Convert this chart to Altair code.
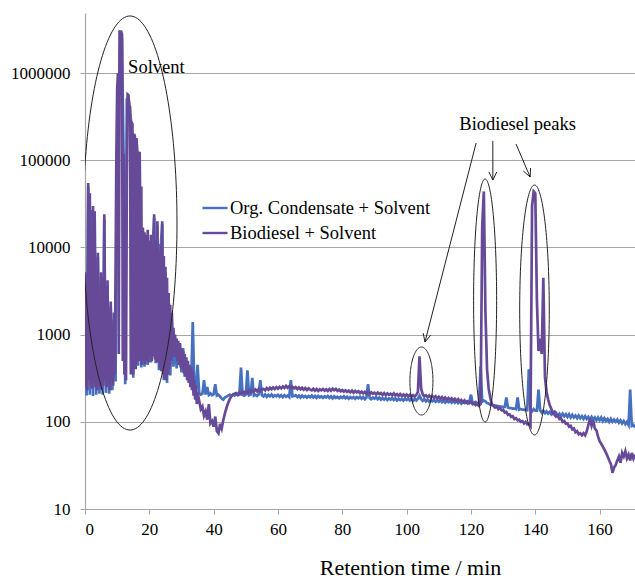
import numpy as np
import pandas as pd
import altair as alt

SERIES = ["Org. Condensate + Solvent", "Biodiesel + Solvent"]
COLORS = ["#4670C0", "#674A97"]
SERIF = "Liberation Serif"

# Org. Condensate + Solvent: detector signal every 0.5 min, 0 - 171 min
blue_start, blue_step = 0.0, 0.5
blue_v = [
    4800, 200, 50000, 205, 27000, 198, 24000, 205, 7800, 210,
    4600, 205, 21000, 215, 3600, 210, 2100, 230, 1500, 290,
    95000, 620000, 2700000, 2500000, 105000, 270, 500000, 520000, 370000, 240000,
    320, 175000, 155000, 440, 105000, 420, 15500, 430, 12500, 450,
    10500, 480, 9800, 22000, 470, 18000, 390, 9500, 18500, 300,
    5200, 280, 2700, 340, 1500, 430, 920, 410, 680, 780,
    370, 700, 330, 480, 300, 440, 260, 1400, 245, 235,
    450, 215, 205, 210, 300, 206, 250, 204, 212, 202,
    208, 270, 200, 205, 195, 185, 180, 190, 195, 200,
    205, 198, 206, 200, 208, 202, 205, 420, 204, 200,
    206, 390, 202, 206, 320, 200, 205, 198, 206, 300,
    202, 196, 206, 194, 204, 196, 206, 194, 202, 196,
    204, 194, 202, 192, 202, 194, 200, 192, 300, 196,
    198, 202, 192, 200, 190, 200, 192, 198, 190, 198,
    192, 200, 190, 198, 188, 198, 190, 196, 188, 196,
    190, 198, 188, 196, 186, 196, 188, 194, 186, 194,
    188, 196, 186, 194, 184, 192, 186, 192, 184, 192,
    186, 194, 184, 192, 182, 190, 270, 188, 182, 190,
    184, 192, 182, 190, 180, 188, 180, 188, 178, 186,
    180, 188, 178, 186, 176, 184, 178, 184, 176, 184,
    178, 186, 176, 184, 174, 182, 176, 184, 200, 182,
    174, 182, 172, 180, 170, 178, 172, 178, 170, 178,
    170, 178, 168, 176, 166, 174, 168, 174, 166, 174,
    166, 174, 164, 172, 162, 170, 164, 170, 162, 170,
    205, 166, 160, 168, 158, 166, 430, 170, 175, 172,
    164, 162, 156, 156, 156, 154, 152, 152, 150, 150,
    148, 148, 190, 146, 144, 144, 142, 142, 140, 190,
    138, 140, 138, 138, 136, 136, 400, 138, 132, 140,
    134, 134, 235, 136, 128, 134, 126, 132, 124, 130,
    122, 128, 120, 126, 118, 124, 116, 124, 116, 122,
    114, 122, 112, 120, 112, 118, 110, 118, 110, 116,
    108, 116, 108, 114, 106, 114, 106, 112, 104, 112,
    104, 112, 102, 110, 102, 108, 100, 108, 100, 106,
    100, 106, 98, 104, 96, 102, 94, 100, 92, 235,
    90, 92, 86,
]

# Biodiesel + Solvent: every 0.25 min through the solvent front (0 - 34.75 min)
purple_a_start, purple_a_step = 0.0, 0.25
purple_a_v = [
    5200, 250, 1800, 230, 55000, 300, 42000, 260, 9000, 240,
    30000, 280, 26000, 250, 4000, 230, 8700, 260, 3000, 240,
    5200, 230, 2000, 260, 24000, 300, 3500, 250, 4200, 280,
    1500, 230, 2400, 300, 1200, 260, 1800, 350, 5000, 112000,
    650000, 1000000, 600, 3000000, 3000000, 3000000, 2800000, 500, 120000, 350,
    30000, 300, 60000, 570000, 560000, 420000, 410000, 350, 270000, 260000,
    350, 200000, 190000, 400, 180000, 130000, 500, 120000, 125000, 500,
    50000, 450, 17000, 500, 15000, 460, 14000, 500, 16000, 480,
    12000, 550, 14000, 500, 11000, 560, 24000, 520, 12000, 480,
    20000, 500, 9000, 420, 11000, 380, 20000, 350, 8000, 320,
    6000, 300, 4500, 350, 3000, 400, 2200, 500, 1800, 550,
    1200, 600, 1000, 550, 900, 500, 850, 450, 800, 420,
    700, 400, 650, 360, 600, 330, 550, 300, 500, 280,
    450, 250, 420, 230, 380, 200, 300, 180, 260, 160,
]

# Biodiesel + Solvent: every 0.5 min from 35 to 171 min
purple_b_start, purple_b_step = 35.0, 0.5
purple_b_v = [
    220, 175, 140, 150, 118, 132, 106, 160, 96, 102,
    88, 115, 78, 74, 95, 84, 105, 125, 145, 165,
    182, 196, 204, 210, 214, 206, 218, 210, 222, 212,
    224, 214, 228, 218, 232, 222, 234, 224, 238, 226,
    236, 238, 230, 244, 234, 246, 236, 248, 238, 250,
    240, 252, 242, 254, 244, 258, 246, 256, 244, 252,
    242, 250, 238, 248, 236, 246, 234, 244, 232, 242,
    234, 230, 240, 228, 238, 226, 236, 230, 238, 228,
    236, 226, 238, 228, 240, 230, 238, 226, 234, 224,
    232, 222, 230, 220, 228, 218, 228, 216, 226, 218,
    224, 214, 222, 212, 220, 210, 220, 208, 218, 210,
    216, 206, 216, 208, 214, 204, 214, 202, 212, 204,
    210, 202, 212, 200, 208, 198, 208, 198, 206, 196,
    206, 196, 204, 194, 202, 194, 204, 220, 565, 240,
    207, 196, 202, 192, 200, 190, 198, 188, 196, 186,
    194, 184, 192, 182, 190, 180, 188, 178, 186, 176,
    184, 174, 182, 172, 178, 168, 176, 166, 172, 164,
    170, 160, 166, 156, 162, 153, 160, 17500, 44000, 1800,
    400, 240, 190, 160, 152, 146, 150, 140, 144, 136,
    138, 128, 130, 120, 122, 114, 116, 108, 110, 104,
    106, 100, 102, 96, 100, 94, 96, 90, 30000, 44000,
    42000, 2500, 650, 900, 600, 4500, 330, 220, 180, 155,
    140, 125, 130, 115, 118, 108, 110, 100, 102, 95,
    96, 88, 90, 82, 84, 76, 78, 72, 74, 70,
    74, 70, 78, 92, 108, 90, 104, 84, 80, 68,
    60, 56, 52, 48, 44, 40, 36, 33, 26, 30,
    32, 36, 40, 34, 44, 40, 46, 38, 42, 36,
    44, 38, 42,
]

# Ellipses around peak groups: centre (min, log10 signal) and radii
ell_cx = [14.0, 104.6, 124.4, 139.75]
ell_cy = [4.281, 2.468, 3.392, 3.283]
ell_rx = [14.6, 3.58, 3.58, 4.6]
ell_ry = [2.375, 0.39, 1.394, 1.434]

# Arrows from the "Biodiesel peaks" caption: start and tip (min, signal)
arr_x0 = [121.6, 126.8, 134.0]
arr_y0 = [158000, 167000, 154000]
arr_x1 = [105.7, 126.8, 138.4]
arr_y1 = [824, 59400, 64400]

# Captions
note_text = ["Solvent", "Biodiesel peaks"]
note_x = [13.4, 134.5]
note_y = [1180000, 261000]

X_MAX = 171
Y_MIN, Y_MAX = 10, 4.9e6
W, H = 550, 496


def trace(start, step, values, name):
    t = start + step * np.arange(len(values))
    return pd.DataFrame({"t": t, "v": values, "series": name})


blue = trace(blue_start, blue_step, blue_v, SERIES[0])
purple = pd.concat([
    trace(purple_a_start, purple_a_step, purple_a_v, SERIES[1]),
    trace(purple_b_start, purple_b_step, purple_b_v, SERIES[1]),
], ignore_index=True)

# ellipse outlines in data space
ang = np.linspace(0, 2 * np.pi, 161)
ell_rows = []
for i in range(len(ell_cx)):
    for k, a in enumerate(ang):
        ell_rows.append({"id": i, "k": k,
                         "x": ell_cx[i] + ell_rx[i] * np.cos(a),
                         "y": 10 ** (ell_cy[i] + ell_ry[i] * np.sin(a))})
ell_df = pd.DataFrame(ell_rows)

# arrow shafts plus open arrow heads (head built in screen units)
kx = W / X_MAX
ky = H / np.log10(Y_MAX / Y_MIN)
seg_rows = []
sid = 0
for i in range(len(arr_x0)):
    lx0, lx1 = np.log10(arr_y0[i]), np.log10(arr_y1[i])
    seg_rows += [{"id": sid, "k": 0, "x": arr_x0[i], "y": arr_y0[i]},
                 {"id": sid, "k": 1, "x": arr_x1[i], "y": arr_y1[i]}]
    sid += 1
    u, w = (arr_x1[i] - arr_x0[i]) * kx, (lx1 - lx0) * ky
    n = np.hypot(u, w)
    bu, bw = -u / n, -w / n
    for s in (1, -1):
        c, sn = np.cos(s * 0.45), np.sin(s * 0.45)
        au, aw = (bu * c - bw * sn) * 9, (bu * sn + bw * c) * 9
        seg_rows += [{"id": sid, "k": 0, "x": arr_x1[i], "y": arr_y1[i]},
                     {"id": sid, "k": 1, "x": arr_x1[i] + au / kx,
                      "y": 10 ** (lx1 + aw / ky)}]
        sid += 1
seg_df = pd.DataFrame(seg_rows)

notes = pd.DataFrame({"label": note_text, "x": note_x, "y": note_y})

x_scale = alt.Scale(domain=[0, X_MAX], nice=False, zero=False)
y_scale = alt.Scale(type="log", domain=[Y_MIN, Y_MAX], nice=False)
color_scale = alt.Scale(domain=SERIES, range=COLORS)

x_axis = alt.Axis(values=list(range(0, 161, 20)), grid=False, tickSize=5,
                  labelPadding=7, title="Retention time / min",
                  titleX=325, titleY=65, titleBaseline="alphabetic",
                  titleAlign="center", titleAnchor="start")
y_axis = alt.Axis(values=[10, 100, 1000, 10000, 100000, 1000000], format="d",
                  grid=True, tickSize=5, labelPadding=10, title=None)

legend = alt.Legend(title=None, orient="none", legendX=116, legendY=181,
                    symbolType="stroke", symbolSize=625, symbolStrokeWidth=2.4,
                    labelFont=SERIF, labelFontSize=18.5, labelColor="#000",
                    labelLimit=0, labelOffset=1, rowPadding=1, padding=0)


def series_layer(df):
    return alt.Chart(df).mark_line(strokeWidth=2.7, clip=True).encode(
        x=alt.X("t:Q", scale=x_scale, axis=x_axis),
        y=alt.Y("v:Q", scale=y_scale, axis=y_axis),
        color=alt.Color("series:N", scale=color_scale, legend=legend),
        order="t:Q",
    )


ellipses = alt.Chart(ell_df).mark_line(color="#222", strokeWidth=1, clip=True).encode(
    x="x:Q", y="y:Q", detail="id:N", order="k:Q")
arrows = alt.Chart(seg_df).mark_line(color="#222", strokeWidth=1).encode(
    x="x:Q", y="y:Q", detail="id:N", order="k:Q")
solvent_txt = alt.Chart(notes.iloc[[0]]).mark_text(
    font=SERIF, fontSize=18.5, color="#000", align="left", baseline="middle"
).encode(x="x:Q", y="y:Q", text="label:N")
peaks_txt = alt.Chart(notes.iloc[[1]]).mark_text(
    font=SERIF, fontSize=18.5, color="#000", align="center", baseline="middle"
).encode(x="x:Q", y="y:Q", text="label:N")

chart = alt.layer(
    series_layer(blue), series_layer(purple), ellipses, arrows, solvent_txt, peaks_txt
).properties(
    width=W, height=H,
    autosize=alt.AutoSizeParams(type="none"),
    padding={"left": 85, "top": 13, "right": 0, "bottom": 70},
).configure_view(stroke=None).configure_axis(
    labelFont=SERIF, labelFontSize=17, labelColor="#000",
    titleFont=SERIF, titleFontSize=22, titleFontWeight="normal", titleColor="#000",
    domainColor="#A6A6A6", tickColor="#A6A6A6", gridColor="#A6A6A6",
    gridWidth=1, domainWidth=1.2,
)

chart.save("out.html", embed_options={"renderer": "svg", "actions": False})
